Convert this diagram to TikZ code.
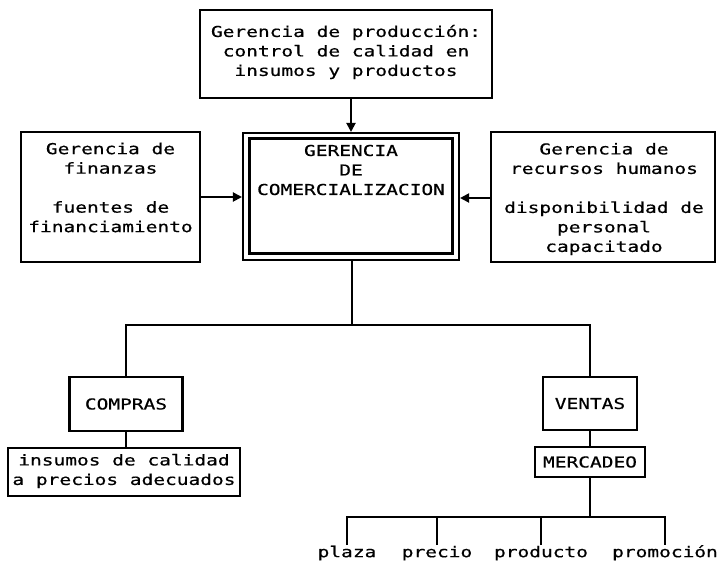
\documentclass[tikz,border=0pt]{standalone}
\usepackage{fontspec}
\newfontfamily\dm[FakeStretch=1.3,FakeBold=0.5]{DejaVu Sans Mono}
\usetikzlibrary{arrows.meta,calc}
\begin{document}
\begin{tikzpicture}[x=1pt,y=-1pt,
  every node/.style={font=\dm\fontsize{15}{19.5}\selectfont},
  box/.style={draw,line width=2.1pt,inner sep=0pt},
  txt/.style={inner sep=0pt,align=center},
  conn/.style={line width=2pt},
  arr/.style={conn,-{Triangle[length=9pt,width=9pt]}},
  lab/.style={inner sep=1pt,text height=11pt,text depth=3pt,anchor=north}]
\useasboundingbox[fill=white] (0,0) rectangle (719,565);
% top box
\node[box,minimum width=292pt,minimum height=88pt] (top) at (346,54) {};
\node[txt] (toptxt) at (346,52) {Gerencia de producción:\\control de calidad en\\insumos y productos};
% centre box (double)
\node[box,minimum width=216pt,minimum height=127pt] (cen) at (351,196.5) {};
\node[box,minimum width=203pt,minimum height=115pt] (ceninner) at (351,196) {};
\node[txt] (centxt) at (351,170) {GERENCIA\\DE\\COMERCIALIZACION};
% left box
\node[box,minimum width=179pt,minimum height=130pt] (left) at (110.5,197) {};
\node[txt] (lefttxt) at (110.5,187.5) {Gerencia de\\finanzas\\[19.5pt]fuentes de\\financiamiento};
% right box
\node[box,minimum width=224pt,minimum height=130pt] (right) at (603,197) {};
\node[txt] (righttxt) at (604,199) {Gerencia de\\recursos humanos\\[19.5pt]disponibilidad de\\personal\\capacitado};
% lower boxes
\node[box,minimum width=113pt,minimum height=54pt] (compras) at (126,404) {COMPRAS};
\node[box,minimum width=94pt,minimum height=53pt] (ventas) at (590,403.5) {VENTAS};
\node[box,minimum width=232pt,minimum height=48pt] (insumos) at (124,472) {};
\node[txt] (insumostxt) at (124,471) {insumos de calidad\\a precios adecuados};
\node[box,minimum width=110pt,minimum height=30pt] (merc) at (590,462) {MERCADEO};
% labels
\node[lab] (plaza) at (347,545) {plaza};
\node[lab] (precio) at (437,545) {precio};
\node[lab] (producto) at (541,545) {producto};
\node[lab] (promo) at (665,545) {promoción};
% bus coordinates
\coordinate (b1) at (352,325);
\coordinate (b2) at (590,517);
% arrows
\draw[arr] (top.south -| cen.north) -- (cen.north);
\draw[arr] (left.east |- 0,197) -- (cen.west |- 0,197);
\draw[arr] (right.west |- 0,198) -- (cen.east |- 0,198);
% tree
\draw[conn] (cen.south -| b1) -- (b1);
\draw[conn] (compras.north) |- (b1) -| (ventas.north);
\draw[conn] (compras.south) -- (compras.south |- insumos.north);
\draw[conn] (ventas.south) -- (merc.north);
\draw[conn] (merc.south) -- (b2);
\draw[conn] (plaza.north) |- (b2) -| (promo.north);
\draw[conn] (precio.north) -- (precio.north |- b2);
\draw[conn] (producto.north) -- (producto.north |- b2);
\end{tikzpicture}
\end{document}
